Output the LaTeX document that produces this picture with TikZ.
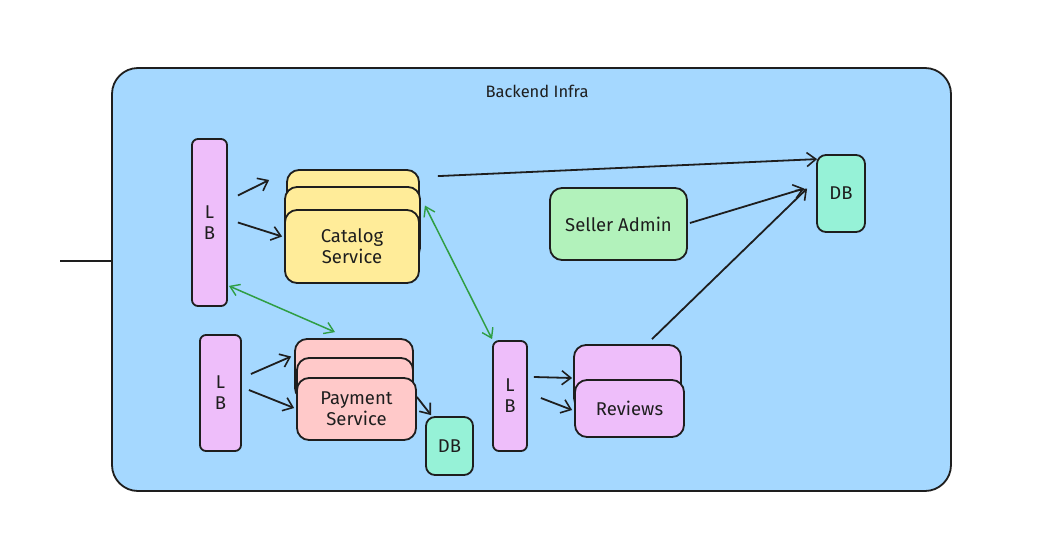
\documentclass[tikz,border=0pt]{standalone}
\usepackage{fontspec}
\setmainfont{Fira Sans}
\usetikzlibrary{arrows.meta}
\definecolor{ink}{HTML}{1E1E1E}
\definecolor{infra}{HTML}{A5D8FF}
\definecolor{lbfill}{HTML}{EEBEFA}
\definecolor{catfill}{HTML}{FFEC99}
\definecolor{payfill}{HTML}{FFC9C9}
\definecolor{sellfill}{HTML}{B2F2BB}
\definecolor{dbfill}{HTML}{96F2D7}
\definecolor{grn}{HTML}{2F9E44}
\tikzset{
  box/.style={draw=ink, line width=1.8pt, rounded corners=#1, inner sep=0pt, align=center, text=ink, font=\fontsize{18.5}{21}\selectfont},
  box/.default=12pt,
  arr/.style={draw=ink, line width=1.8pt, -{Straight Barb[length=9pt,width=14pt,line width=1.6pt]}},
  garr/.style={draw=grn, line width=1.5pt, {Straight Barb[length=9pt,width=12pt,line width=1.4pt]}-{Straight Barb[length=9pt,width=12pt,line width=1.4pt]}}
}
\begin{document}
\begin{tikzpicture}[x=1pt,y=-1pt]
\useasboundingbox (0,0) rectangle (1047,541);
\fill[white] (0,0) rectangle (1047,541);
% container
\node[box=26pt, fill=infra, minimum width=839pt, minimum height=423pt] (infra) at (531.5,279.5) {};
\node[font=\fontsize{16.5}{19}\selectfont, text=ink] (title) at (537,91) {Backend Infra};
\coordinate (ext) at (60,261);
\draw[ink, line width=1.8pt] (ext) -- (ext -| infra.west);
% load balancers
\node[box=6pt, fill=lbfill, minimum width=35pt, minimum height=167pt] (lb1) at (209.5,222.5) {L\\B};
\node[box=6pt, fill=lbfill, minimum width=41pt, minimum height=116pt] (lb2) at (220.5,393) {L\\B};
\node[box=6pt, fill=lbfill, minimum width=34pt, minimum height=110pt] (lb3) at (510,396) {L\\B};
% catalog stack
\node[box, fill=catfill, minimum width=132pt, minimum height=80pt] (cat3) at (353,210) {};
\node[box, fill=catfill, minimum width=135pt, minimum height=73pt] (cat2) at (352.5,223.5) {};
\node[box, fill=catfill, minimum width=134pt, minimum height=73pt] (cat1) at (352,246.5) {Catalog\\Service};
% payment stack
\node[box, fill=payfill, minimum width=118pt, minimum height=61pt] (pay3) at (354,369.5) {};
\node[box, fill=payfill, minimum width=116pt, minimum height=57pt] (pay2) at (355,386.5) {};
\node[box, fill=payfill, minimum width=119pt, minimum height=62pt] (pay1) at (356.5,409) {Payment\\Service};
% reviews stack
\node[box, fill=lbfill, minimum width=107pt, minimum height=65pt] (rev2) at (627.5,377.5) {};
\node[box, fill=lbfill, minimum width=109pt, minimum height=57pt] (rev1) at (629.5,408.5) {Reviews};
% seller admin
\node[box, fill=sellfill, minimum width=137pt, minimum height=72pt] (sa) at (618.5,224) {Seller Admin};
% databases
\node[box=9pt, fill=dbfill, minimum width=48pt, minimum height=77pt] (db1) at (841,193.5) {DB};
\node[box=9pt, fill=dbfill, minimum width=47pt, minimum height=58pt] (db2) at (449.5,446) {DB};
% black arrows
\draw[arr] ([shift={(10,-27)}]lb1.east) -- ([shift={(-17,-30)}]cat3.west);
\draw[arr] ([shift={(10,0)}]lb1.east) -- ([shift={(-2,-10)}]cat1.west);
\draw[arr] ([shift={(18,7)}]cat3.north east) -- ([shift={(1,5)}]db1.north west);
\draw[arr] ([shift={(2,-1)}]sa.east) -- ([shift={(-12,-5)}]db1.west);
\draw[arr] ([shift={(24.5,-5)}]rev2.north) -- ([shift={(-9,-5)}]db1.west);
\draw[arr] ([shift={(9,-19)}]lb2.east) -- ([shift={(-5,-30)}]pay2.west);
\draw[arr] ([shift={(7,-3)}]lb2.east) -- ([shift={(-2,-1)}]pay1.west);
\draw[arr] ([shift={(0,-12)}]pay1.east) -- ([shift={(6,-1)}]db2.north west);
\draw[arr] ([shift={(6,-19)}]lb3.east) -- ([shift={(-1,0.5)}]rev2.west);
\draw[arr] ([shift={(13,2)}]lb3.east) -- ([shift={(-2,1.5)}]rev1.west);
% green arrows
\draw[garr] ([shift={(1,-21)}]lb1.south east) -- ([shift={(-19,-6)}]pay3.north);
\draw[garr] ([shift={(4,-18)}]cat2.east) -- ([shift={(0,-1)}]lb3.north west);
\end{tikzpicture}
\end{document}
